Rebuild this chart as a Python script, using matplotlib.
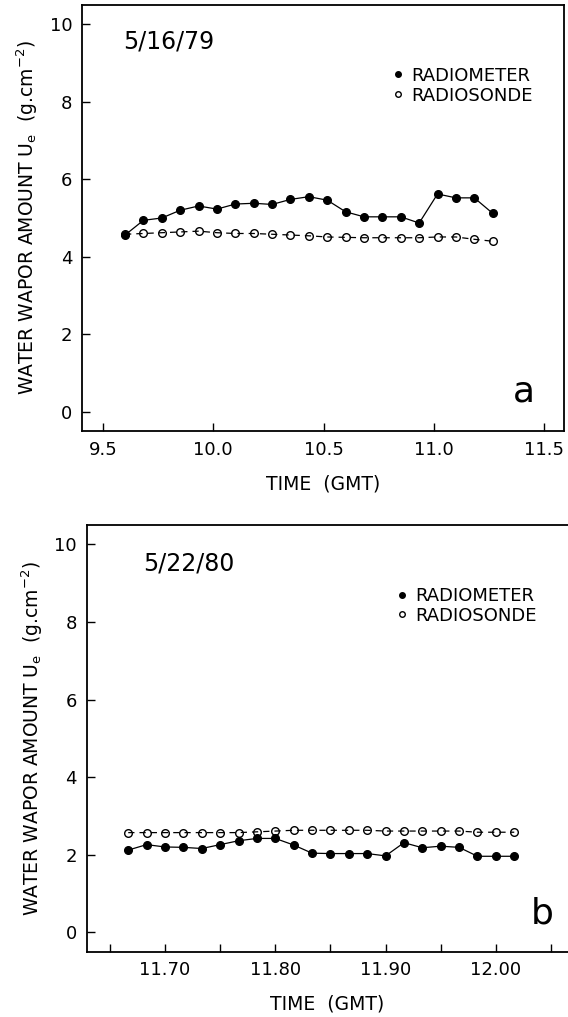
import matplotlib
matplotlib.use("Agg")
import matplotlib.pyplot as plt
from matplotlib.lines import Line2D
import numpy as np

# --- panel a : 5/16/79, one sample every 5 minutes from 9.6 GMT ---
time_a = [9.6 + i / 12 for i in range(21)]
radiometer_a = [4.56, 4.94, 5.00, 5.20, 5.31, 5.23, 5.36, 5.38, 5.35, 5.48, 5.55,
                5.46, 5.16, 5.03, 5.03, 5.03, 4.87, 5.62, 5.52, 5.52, 5.12]
radiosonde_a = [4.58, 4.60, 4.62, 4.64, 4.66, 4.62, 4.60, 4.60, 4.58, 4.56, 4.54,
                4.51, 4.50, 4.49, 4.49, 4.49, 4.49, 4.51, 4.51, 4.45, 4.40]

# --- panel b : 5/22/80, one sample every minute from 11:40 GMT ---
time_b = [11 + (40 + i) / 60 for i in range(22)]
radiometer_b = [2.12, 2.26, 2.20, 2.19, 2.16, 2.26, 2.36, 2.42, 2.42, 2.25, 2.04,
                2.03, 2.03, 2.03, 1.97, 2.31, 2.18, 2.22, 2.19, 1.96, 1.96, 1.96]
radiosonde_b = [2.57, 2.57, 2.57, 2.57, 2.57, 2.57, 2.57, 2.59, 2.61, 2.63, 2.63,
                2.63, 2.63, 2.63, 2.61, 2.61, 2.61, 2.61, 2.61, 2.58, 2.58, 2.58]

yticks = [0, 2, 4, 6, 8, 10]
ylabel = r'WATER WAPOR AMOUNT U$_\mathrm{e}$  (g.cm$^{-2}$)'

plt.rcParams['font.family'] = 'DejaVu Sans'
fig = plt.figure(figsize=(5.68, 10.17), dpi=100)
ax_a = fig.add_axes([0.1444, 0.5762, 0.8486, 0.4189])
ax_b = fig.add_axes([0.1526, 0.0642, 0.8474, 0.4196])


def draw_panel(ax, t, rad, sonde):
    ax.plot(t, rad, color='black', lw=0.9, marker='o', ms=5.5,
            mfc='black', mec='black', zorder=3)
    ax.plot(t, sonde, color='black', lw=0.9, ls=(0, (5, 4)), marker='o', ms=5.5,
            mfc='none', mec='black', mew=1.0, zorder=2)
    ax.set_ylim(-0.5, 10.5)
    ax.set_yticks(yticks)
    ax.tick_params(direction='in', length=6, width=1.0, labelsize=13, pad=7)
    ax.tick_params(which='minor', direction='in', length=6, width=1.0)
    for sp in ax.spines.values():
        sp.set_linewidth(1.3)
    ax.set_xlabel('TIME  (GMT)', fontsize=13.5, labelpad=11)
    ax.set_ylabel(ylabel, fontsize=13.5, labelpad=7)
    handles = [Line2D([], [], ls='none', marker='o', ms=4, mfc='black', mec='black'),
               Line2D([], [], ls='none', marker='o', ms=4, mfc='none', mec='black')]
    ax.legend(handles, ['RADIOMETER', 'RADIOSONDE'], loc='upper left',
              bbox_to_anchor=(0.644, 0.855), frameon=False, fontsize=13,
              borderpad=0, borderaxespad=0, handlelength=0.6,
              handletextpad=0.45, labelspacing=0.1)


draw_panel(ax_a, time_a, radiometer_a, radiosonde_a)
ax_a.set_xlim(9.405, 11.59)
ax_a.set_xticks([9.5, 10.0, 10.5, 11.0, 11.5])
ax_a.set_xticklabels(['9.5', '10.0', '10.5', '11.0', '11.5'])
ax_a.text(0.085, 0.915, '5/16/79', transform=ax_a.transAxes, fontsize=17,
          va='center', ha='left')
ax_a.text(0.917, 0.069, 'a', transform=ax_a.transAxes, fontsize=26,
          va='baseline', ha='center')

draw_panel(ax_b, time_b, radiometer_b, radiosonde_b)
ax_b.set_xlim(11.629, 12.0654)
ax_b.set_xticks([11.70, 11.80, 11.90, 12.00])
ax_b.set_xticklabels(['11.70', '11.80', '11.90', '12.00'])
ax_b.set_xticks([11.65, 11.75, 11.85, 11.95, 12.05], minor=True)
ax_b.spines['right'].set_visible(False)
ax_b.text(0.117, 0.909, '5/22/80', transform=ax_b.transAxes, fontsize=17,
          va='center', ha='left')
ax_b.text(0.946, 0.067, 'b', transform=ax_b.transAxes, fontsize=26,
          va='baseline', ha='center')

fig.savefig('out.png', dpi=100)
